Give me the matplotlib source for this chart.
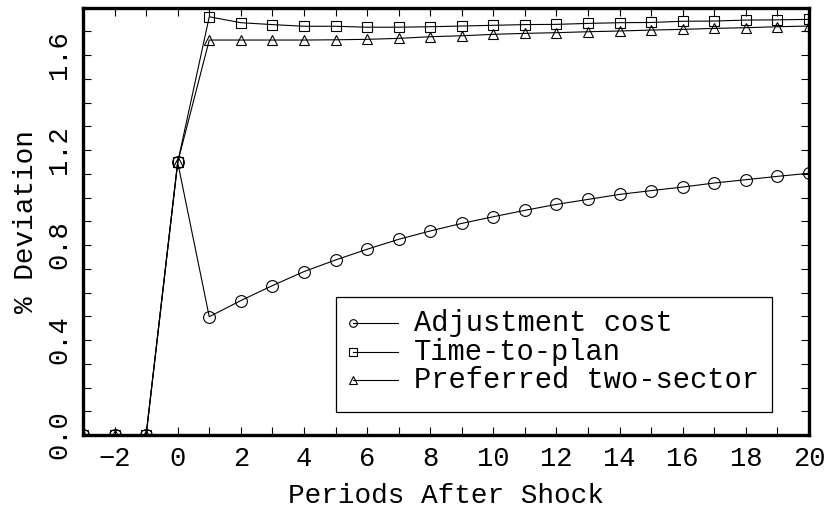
import matplotlib
matplotlib.use("Agg")
import matplotlib.pyplot as plt
from matplotlib.ticker import MultipleLocator, FormatStrFormatter
from matplotlib.patches import Rectangle
from matplotlib.lines import Line2D

periods = list(range(-3, 21))

adjustment_cost = [0.0, 0.0, 0.0, 1.148,
                   0.498, 0.566, 0.629, 0.688, 0.737, 0.782, 0.824, 0.859,
                   0.891, 0.919, 0.946, 0.971, 0.992, 1.013, 1.029, 1.044,
                   1.061, 1.075, 1.089, 1.102]

time_to_plan = [0.0, 0.0, 0.0, 1.148,
                1.761, 1.736, 1.728, 1.721, 1.721, 1.717, 1.717, 1.719,
                1.722, 1.725, 1.728, 1.729, 1.733, 1.736, 1.737, 1.742,
                1.743, 1.747, 1.748, 1.750]

two_sector = [0.0, 0.0, 0.0, 1.148,
              1.663, 1.663, 1.663, 1.663, 1.664, 1.666, 1.670, 1.677,
              1.681, 1.687, 1.691, 1.694, 1.698, 1.701, 1.705, 1.708,
              1.712, 1.715, 1.719, 1.722]

labels = ["Adjustment cost", "Time-to-plan", "Preferred two-sector"]
markers = ["o", "s", "^"]
sizes = [8.5, 7, 7.5]

FONT = "Liberation Mono"
plt.rcParams["font.family"] = [FONT, "DejaVu Sans"]
plt.rcParams["axes.unicode_minus"] = True

fig = plt.figure(figsize=(8.3, 5.13), dpi=100)
ax = fig.add_axes([83 / 830, 1 - 435 / 513, 726 / 830, 427.5 / 513])

series = [adjustment_cost, time_to_plan, two_sector]
for vals, m, s in zip(series, markers, sizes):
    ax.plot(periods, vals, color="black", lw=0.8, marker=m, ms=s,
            mfc="none", mec="black", mew=0.8)

ax.set_xlim(-3, 20)
ax.set_ylim(0, 1.8)
ax.xaxis.set_major_locator(MultipleLocator(2))
ax.xaxis.set_minor_locator(MultipleLocator(1))
ax.yaxis.set_major_locator(MultipleLocator(0.4))
ax.yaxis.set_minor_locator(MultipleLocator(0.1))
ax.yaxis.set_major_formatter(FormatStrFormatter("%.1f"))

ax.tick_params(which="both", direction="in", top=True, right=True,
               length=5.5, width=0.8, labelsize=19.5, pad=8)
for lab in ax.get_yticklabels():
    lab.set_rotation(90)
    lab.set_va("center")

for sp in ax.spines.values():
    sp.set_linewidth(2.4)

ax.set_xlabel("Periods After Shock", fontsize=20, labelpad=8)
ax.set_ylabel("% Deviation", fontsize=20, labelpad=5)

# legend drawn in axes coordinates
ax.add_patch(Rectangle((0.3485, 0.054), 0.6005, 0.269, transform=ax.transAxes,
                       fill=False, edgecolor="black", lw=0.9, zorder=5))
rows = [0.262, 0.195, 0.129]
for lab, m, y in zip(labels, markers, rows):
    ax.add_line(Line2D([0.372, 0.434], [y, y], transform=ax.transAxes,
                       color="black", lw=0.8, zorder=6))
    ax.add_line(Line2D([0.372], [y], transform=ax.transAxes, marker=m, ms=5.5,
                       mfc="none", mec="black", mew=0.8, ls="none", zorder=6))
    ax.text(0.456, y, lab, transform=ax.transAxes, fontsize=20.7,
            va="center", ha="left", zorder=6)

fig.savefig("out.png", dpi=100)
